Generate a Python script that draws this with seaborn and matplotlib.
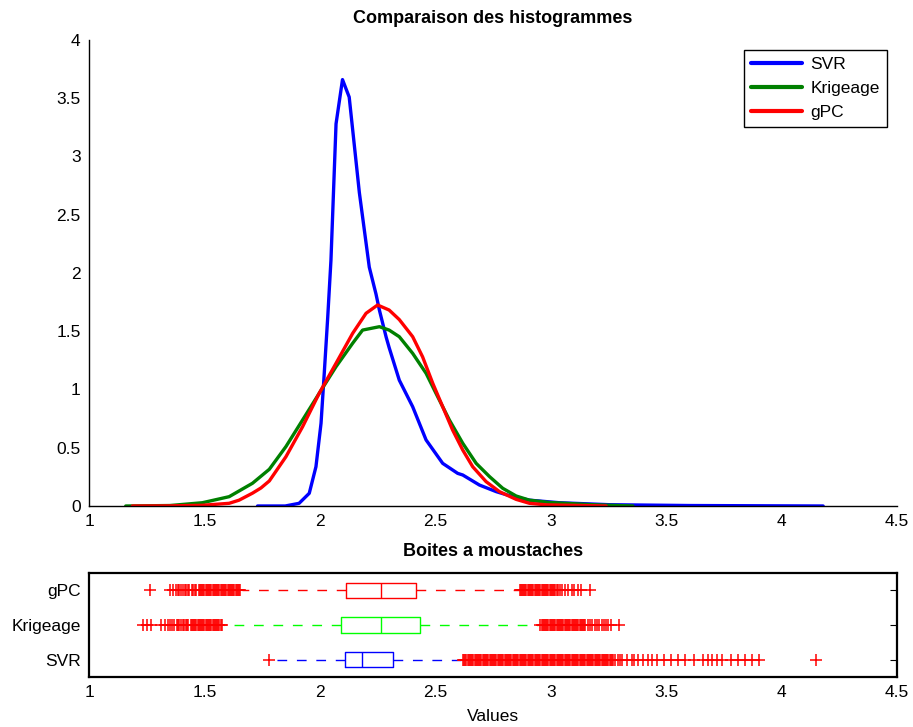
import pandas as pd
import seaborn as sns
from matplotlib import pyplot as plt

# density curves
svr_x = [1.73, 1.85, 1.91, 1.954, 1.983, 2.005, 2.019, 2.034, 2.048, 2.07, 2.098,
         2.127, 2.171, 2.214, 2.243, 2.258, 2.287, 2.30, 2.344, 2.402, 2.46, 2.532,
         2.597, 2.619, 2.691, 2.764, 2.836, 2.908, 3.038, 3.255, 3.6, 4.18]
svr_y = [0.0, 0.0, 0.023, 0.109, 0.337, 0.71, 1.14, 1.62, 2.11, 3.28, 3.66,
         3.51, 2.69, 2.05, 1.82, 1.68, 1.45, 1.36, 1.08, 0.852, 0.567, 0.366,
         0.28, 0.266, 0.18, 0.123, 0.08, 0.05, 0.028, 0.011, 0.004, 0.0]

krig_x = [1.159, 1.35, 1.491, 1.607, 1.708, 1.781, 1.853, 1.925, 1.997, 2.07,
          2.142, 2.185, 2.258, 2.30, 2.344, 2.402, 2.46, 2.503, 2.561, 2.619,
          2.677, 2.735, 2.792, 2.85, 2.908, 2.995, 3.183, 3.356]
krig_y = [0.0, 0.004, 0.028, 0.08, 0.195, 0.315, 0.51, 0.738, 0.967, 1.196,
          1.397, 1.51, 1.539, 1.51, 1.453, 1.31, 1.139, 0.967, 0.738, 0.538,
          0.366, 0.252, 0.152, 0.086, 0.05, 0.03, 0.011, 0.0]

gpc_x = [1.188, 1.35, 1.491, 1.607, 1.65, 1.708, 1.745, 1.781, 1.853, 1.925,
         1.997, 2.07, 2.142, 2.2, 2.25, 2.30, 2.344, 2.402, 2.445, 2.489, 2.532,
         2.575, 2.619, 2.662, 2.72, 2.778, 2.85, 2.908, 2.98, 3.24]
gpc_y = [0.0, 0.001, 0.006, 0.023, 0.05, 0.11, 0.155, 0.215, 0.423, 0.68,
         0.967, 1.225, 1.482, 1.654, 1.725, 1.682, 1.60, 1.453, 1.28, 1.053, 0.852,
         0.652, 0.48, 0.337, 0.209, 0.123, 0.057, 0.023, 0.01, 0.0]

# box plot summaries: lower whisker, q1, median, q3, upper whisker
groups = ["SVR", "Krigeage", "gPC"]
box_colors = ["#0000ff", "#00ff00", "#ff0000"]
whislo = [1.80, 1.585, 1.664]
q1 = [2.109, 2.09, 2.111]
med = [2.181, 2.265, 2.265]
q3 = [2.315, 2.433, 2.417]
whishi = [2.617, 2.945, 2.866]

svr_fliers = [1.778,
              2.62, 2.625, 2.63, 2.635, 2.64, 2.645, 2.65, 2.655, 2.66, 2.665,
              2.67, 2.675, 2.68, 2.685, 2.69, 2.695, 2.70, 2.705, 2.71, 2.715,
              2.72, 2.725, 2.73, 2.735, 2.74, 2.745, 2.75, 2.755, 2.76, 2.765,
              2.77, 2.775, 2.78, 2.785, 2.79, 2.795, 2.80, 2.805, 2.81, 2.815,
              2.82, 2.825, 2.83, 2.835, 2.84, 2.845, 2.85, 2.855, 2.86, 2.865,
              2.87, 2.875, 2.88, 2.885, 2.89, 2.895, 2.90, 2.905, 2.91, 2.915,
              2.92, 2.925, 2.93, 2.935, 2.94, 2.945, 2.95, 2.955, 2.96, 2.965,
              2.97, 2.975, 2.98, 2.985, 2.99, 2.995, 3.00, 3.005, 3.01, 3.015,
              3.02, 3.025, 3.03, 3.035, 3.04, 3.045, 3.05, 3.055, 3.06, 3.065,
              3.07, 3.075, 3.08, 3.085, 3.09, 3.095, 3.10, 3.105, 3.11, 3.115,
              3.12, 3.125, 3.13, 3.135, 3.14, 3.145, 3.15, 3.155, 3.16, 3.165,
              3.17, 3.175, 3.18, 3.185, 3.19, 3.195, 3.20, 3.205, 3.21, 3.215,
              3.22, 3.225, 3.23, 3.235, 3.24, 3.245, 3.25, 3.255, 3.26, 3.265,
              3.27, 3.28, 3.29, 3.30, 3.31, 3.33, 3.35, 3.36, 3.38, 3.40, 3.42,
              3.44, 3.46, 3.49, 3.52, 3.55, 3.58, 3.62, 3.66, 3.68, 3.70, 3.72,
              3.74, 3.78, 3.81, 3.84, 3.87, 3.90, 4.147]
krig_fliers = [1.234, 1.25, 1.27, 1.31, 1.33, 1.34, 1.35, 1.36, 1.37, 1.38,
               1.385, 1.39, 1.40, 1.405, 1.41, 1.42, 1.425, 1.43, 1.44, 1.445,
               1.45, 1.455, 1.46, 1.465, 1.47, 1.475, 1.48, 1.485, 1.49, 1.495,
               1.50, 1.505, 1.51, 1.515, 1.52, 1.525, 1.53, 1.535, 1.54, 1.545,
               1.55, 1.555, 1.56, 1.565, 1.57, 1.575,
               2.955, 2.96, 2.965, 2.97, 2.975, 2.98, 2.985, 2.99, 2.995, 3.00,
               3.005, 3.01, 3.015, 3.02, 3.025, 3.03, 3.035, 3.04, 3.045, 3.05,
               3.055, 3.06, 3.065, 3.07, 3.075, 3.08, 3.085, 3.09, 3.095, 3.10,
               3.105, 3.11, 3.115, 3.12, 3.125, 3.13, 3.135, 3.14, 3.145, 3.15,
               3.16, 3.17, 3.18, 3.19, 3.20, 3.21, 3.22, 3.23, 3.24, 3.25, 3.26,
               3.297]
gpc_fliers = [1.263, 1.352, 1.365, 1.375, 1.385, 1.39, 1.40, 1.405, 1.415, 1.42,
              1.43, 1.435, 1.445, 1.45, 1.46, 1.465, 1.475, 1.48, 1.485,
              1.49, 1.495, 1.50, 1.505, 1.51, 1.515, 1.52, 1.525, 1.53, 1.535,
              1.54, 1.545, 1.55, 1.555, 1.56, 1.565, 1.57, 1.575, 1.58, 1.585,
              1.59, 1.595, 1.60, 1.605, 1.61, 1.615, 1.62, 1.625, 1.63, 1.635,
              1.64, 1.645, 1.65, 1.653,
              2.866, 2.87, 2.875, 2.88, 2.885, 2.89, 2.895, 2.90, 2.905, 2.91,
              2.915, 2.92, 2.925, 2.93, 2.935, 2.94, 2.945, 2.95, 2.955, 2.96,
              2.965, 2.97, 2.975, 2.98, 2.985, 2.99, 2.995, 3.00, 3.005, 3.01,
              3.015, 3.02, 3.025, 3.03, 3.04, 3.05, 3.06, 3.075, 3.09, 3.10,
              3.12, 3.13, 3.172]
fliers = [svr_fliers, krig_fliers, gpc_fliers]

x_ticks = [1, 1.5, 2, 2.5, 3, 3.5, 4, 4.5]
y_ticks = [0, 0.5, 1, 1.5, 2, 2.5, 3, 3.5, 4]


def density_frame():
    parts = []
    for name, xs, ys in [("SVR", svr_x, svr_y), ("Krigeage", krig_x, krig_y),
                         ("gPC", gpc_x, gpc_y)]:
        parts.append(pd.DataFrame({"x": xs, "y": ys, "method": name}))
    return pd.concat(parts, ignore_index=True)


def plot_densities(ax, df):
    sns.lineplot(
        data=df, x="x", y="y", hue="method",
        palette={"SVR": "#0000ff", "Krigeage": "#008000", "gPC": "#ff0000"},
        linewidth=2.4, sort=False, estimator=None, ax=ax,
    )
    ax.set_xlim(1, 4.5)
    ax.set_ylim(0, 4)
    ax.set_xticks(x_ticks)
    ax.set_xticklabels([f"{t:g}" for t in x_ticks])
    ax.set_yticks(y_ticks)
    ax.set_yticklabels([f"{t:g}" for t in y_ticks])
    ax.set_xlabel("")
    ax.set_ylabel("")
    ax.set_title("Comparaison des histogrammes", fontweight="bold", fontsize=13, pad=12)
    sns.despine(ax=ax)
    for s in ["left", "bottom"]:
        ax.spines[s].set_linewidth(1.0)
        ax.spines[s].set_color("black")
    ax.tick_params(direction="in", length=5, width=0.8, labelsize=12.5, pad=6)
    leg = ax.legend(loc="upper right", fontsize=12.5, fancybox=False,
                    edgecolor="black", framealpha=1, handlelength=2.9,
                    handletextpad=0.5, borderaxespad=0.6, labelspacing=0.5)
    leg.get_frame().set_linewidth(1.0)
    for line in leg.get_lines():
        line.set_linewidth(3)


def plot_boxes(ax):
    for i, name in enumerate(groups):
        st = {"label": name, "whislo": whislo[i], "q1": q1[i], "med": med[i],
              "q3": q3[i], "whishi": whishi[i], "fliers": fliers[i]}
        c = box_colors[i]
        ax.bxp([st], positions=[i + 1], vert=False, widths=0.45, showcaps=False,
               boxprops=dict(color=c, linewidth=1.0),
               medianprops=dict(color=c, linewidth=1.0),
               whiskerprops=dict(color=c, linewidth=1.0, linestyle=(0, (7, 7))),
               flierprops=dict(marker="+", markeredgecolor="#ff0000", snap=False,
                               markersize=8.5, markeredgewidth=1.1, linestyle="none"))
    ax.set_xlim(1, 4.5)
    ax.set_ylim(0.5, 3.5)
    ax.set_xticks(x_ticks)
    ax.set_xticklabels([f"{t:g}" for t in x_ticks])
    ax.set_yticks([1, 2, 3])
    ax.set_yticklabels(groups)
    ax.set_xlabel("Values", fontsize=12.5, labelpad=6)
    ax.set_title("Boites a moustaches", fontweight="bold", fontsize=13, pad=12)
    for s in ax.spines.values():
        s.set_visible(True)
        s.set_linewidth(1.6)
        s.set_color("black")
    ax.tick_params(direction="in", length=5, width=0.8, labelsize=12.5, pad=6,
                   right=True)


def main():
    sns.set_style("white")
    plt.rcParams["font.family"] = ["Liberation Sans", "DejaVu Sans"]
    for key in ["text.color", "axes.labelcolor", "xtick.color", "ytick.color"]:
        plt.rcParams[key] = "black"

    fig = plt.figure(figsize=(9.13, 7.27), dpi=100)
    ax_top = fig.add_axes([0.0975, 0.304, 0.885, 0.641])
    ax_bot = fig.add_axes([0.0975, 0.0688, 0.885, 0.143])

    plot_densities(ax_top, density_frame())
    plot_boxes(ax_bot)

    fig.savefig("out.png", dpi=100)


if __name__ == "__main__":
    main()
